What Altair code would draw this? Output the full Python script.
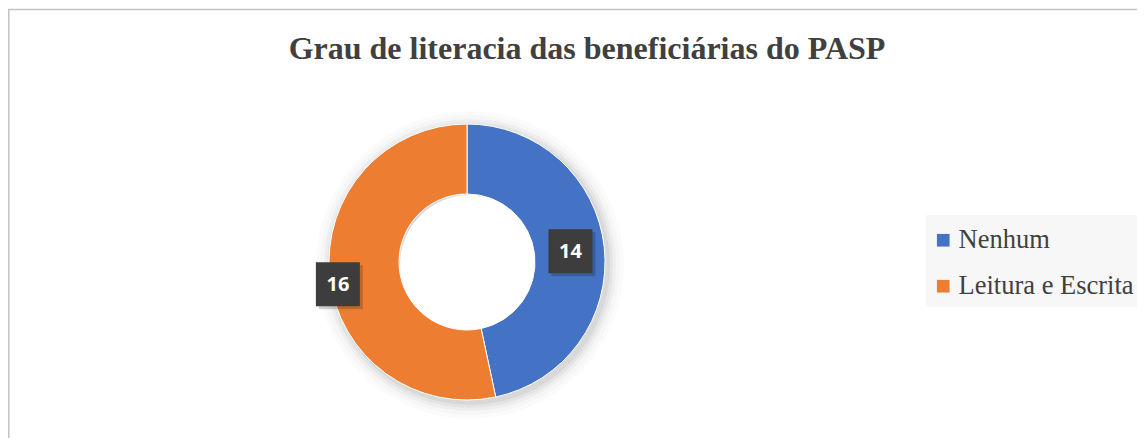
import altair as alt
import pandas as pd

categories = ["Nenhum", "Leitura e Escrita"]
values = [14, 16]
colors = ["#4472C4", "#ED7D31"]
title_text = "Grau de literacia das beneficiárias do PASP"

df = pd.DataFrame({"cat": categories, "value": values})
df["idx"] = range(len(categories))

CX, CY = 459, 254
R_OUT, R_IN = 138, 68

base = alt.Chart(df)
one = pd.DataFrame({"a": [0]})

# soft shadow rings behind the donut
shadow_layers = []
for k, op in [(16, 0.015), (12, 0.02), (8, 0.03), (5, 0.04), (2, 0.05)]:
    shadow_layers.append(
        alt.Chart(one).mark_arc(
            innerRadius=R_IN + 2, outerRadius=R_OUT + k, color="#000000", opacity=op
        ).encode(
            x=alt.value(CX + 3), y=alt.value(CY + 3),
            theta=alt.value(0), theta2=alt.value(6.2832)
        )
    )

legend_bg = alt.Chart(one).mark_rect(color="#f7f7f7").encode(
    x=alt.value(918), x2=alt.value(1129), y=alt.value(207), y2=alt.value(299)
)

donut = base.mark_arc(innerRadius=R_IN, outerRadius=R_OUT, stroke="white", strokeWidth=1).encode(
    theta=alt.Theta("value:Q", stack=True),
    order=alt.Order("idx:Q"),
    color=alt.Color(
        "cat:N",
        scale=alt.Scale(domain=categories, range=colors),
        sort=categories,
        legend=alt.Legend(
            title=None, orient="none", legendX=922, legendY=219,
            symbolType="square", symbolSize=160, symbolStrokeWidth=0,
            labelFont="Liberation Serif", labelFontSize=26.5, labelColor="#404040",
            padding=0, rowPadding=19, labelOffset=2,
            labelLimit=400,
        ),
    ),
    x=alt.value(CX), y=alt.value(CY),
)

pos = base.transform_window(
    cum="sum(value)", sort=[alt.SortField("idx")], frame=[None, 0]
).transform_joinaggregate(total="sum(value)").transform_calculate(
    mid="(datum.cum - datum.value/2)/datum.total*2*PI + (datum.cat == 'Nenhum' ? 0 : -0.065)",
    r="datum.cat == 'Nenhum' ? 104 : 131",
).transform_calculate(
    px=f"{CX} + datum.r*sin(datum.mid)",
    py=f"{CY} - datum.r*cos(datum.mid)",
)

box_shadow = pos.mark_square(size=1936, color="#000000", opacity=0.18).encode(
    x=alt.X("px:Q", scale=None), y=alt.Y("py:Q", scale=None),
    xOffset=alt.value(3), yOffset=alt.value(3),
)
box = pos.mark_square(size=1936, color="#3d3d3d", opacity=1).encode(
    x=alt.X("px:Q", scale=None), y=alt.Y("py:Q", scale=None),
)
label = pos.mark_text(
    font="Open Sans", fontWeight="bold", fontSize=20, color="white",
    align="center", baseline="middle", dy=1,
).encode(
    x=alt.X("px:Q", scale=None), y=alt.Y("py:Q", scale=None), text="value:Q"
)

title = alt.Chart(pd.DataFrame({"t": [title_text]})).mark_text(
    font="Liberation Serif", fontWeight="bold", fontSize=32, color="#404040",
    align="center", baseline="middle",
).encode(x=alt.value(579), y=alt.value(41), text="t:N")

border_top = alt.Chart(one).mark_rule(color="#c3c3c3", strokeWidth=1.5).encode(
    x=alt.value(0.5), x2=alt.value(1140), y=alt.value(1.5)
)
border_left = alt.Chart(one).mark_rule(color="#c3c3c3", strokeWidth=1.5).encode(
    x=alt.value(0.8), y=alt.value(1), y2=alt.value(440)
)

chart = alt.layer(
    legend_bg, *shadow_layers, donut, box_shadow, box, label, title, border_top, border_left
).properties(
    width=1129, height=430, autosize=alt.AutoSizeParams(type="none"), padding=0,
    background="white",
).configure_view(stroke=None)

chart.save("out.html", embed_options={"renderer": "svg", "actions": False})
